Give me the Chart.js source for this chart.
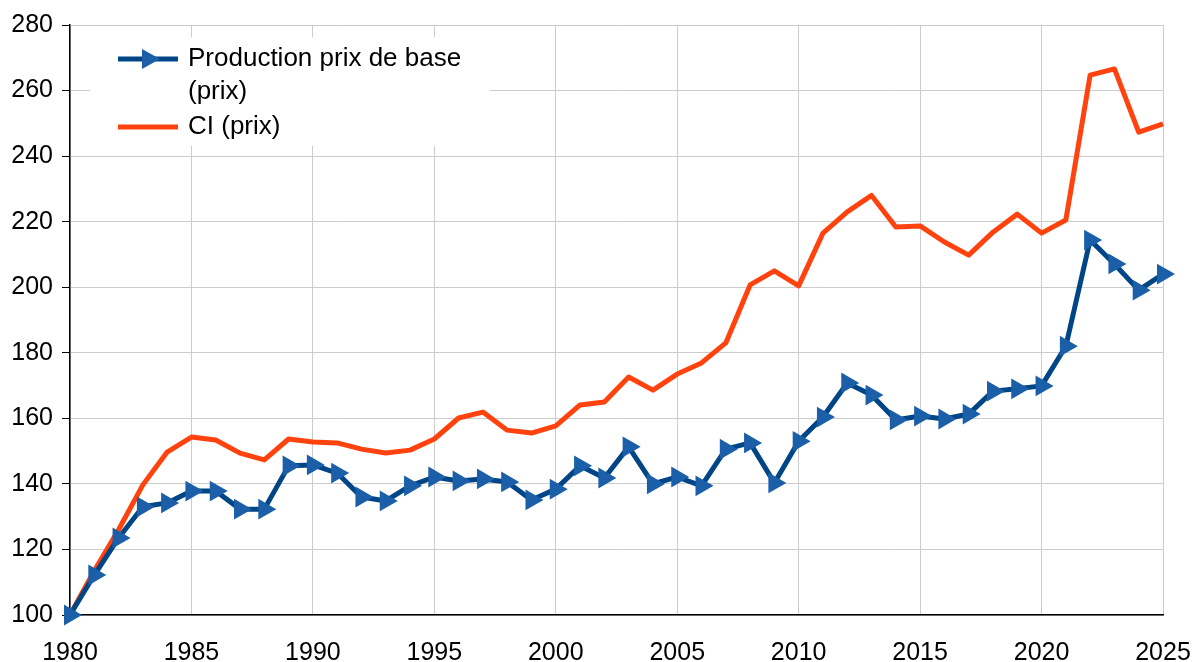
<!DOCTYPE html>
<html>
<head>
<meta charset="utf-8">
<script src="https://cdn.jsdelivr.net/npm/chart.js@4.4.1/dist/chart.umd.min.js"></script>
<style>
  html, body { margin: 0; padding: 0; background: #fff; }
  #wrap { width: 1193px; height: 662px; position: relative; }
</style>
</head>
<body>
<div id="wrap"><canvas id="chart"></canvas></div>
<script>
const years = [1980, 1981, 1982, 1983, 1984, 1985, 1986, 1987, 1988, 1989,
  1990, 1991, 1992, 1993, 1994, 1995, 1996, 1997, 1998, 1999,
  2000, 2001, 2002, 2003, 2004, 2005, 2006, 2007, 2008, 2009,
  2010, 2011, 2012, 2013, 2014, 2015, 2016, 2017, 2018, 2019,
  2020, 2021, 2022, 2023, 2024, 2025];

const production = [100, 112.2, 123.5, 133, 134.2, 137.8, 137.8, 132.3, 132.3, 145.5,
  145.8, 143.3, 136, 134.8, 139.4, 142.1, 140.9, 141.5, 140.6, 135.1,
  138.4, 145.5, 141.8, 151.3, 140, 142.1, 139.4, 150.6, 152.5, 140.3,
  153, 160.4, 170.8, 167.1, 159.5, 160.7, 159.8, 161.3, 168.3, 169,
  169.9, 182, 214.4, 207.1, 199.1, 204];

const ci = [100, 113.5, 126, 139.7, 149.7, 154.3, 153.4, 149.4, 147.3, 153.7,
  152.8, 152.5, 150.6, 149.4, 150.3, 153.7, 160.1, 161.9, 156.4, 155.5,
  157.7, 164.1, 165, 172.6, 168.6, 173.5, 176.9, 183, 200.7, 205,
  200.4, 216.5, 223, 228, 218.4, 218.7, 213.8, 209.8, 216.8, 222.3,
  216.5, 220.5, 264.7, 266.6, 247.3, 249.8];

const seriesNames = [['Production prix de base', '(prix)'], ['CI (prix)']];

const BLUE_LINE = '#004586';
const BLUE_MARK = '#1b5fa9';
const ORANGE = '#ff420e';
const FONT = '"Liberation Sans", Arial, sans-serif';

// legend drawn by hand: white box inside the plot, two-line first label
const boxLegend = {
  id: 'boxLegend',
  afterDraw(chart) {
    const ctx = chart.ctx;
    ctx.save();
    ctx.fillStyle = '#fff';
    ctx.fillRect(90, 37, 400, 109);

    ctx.lineWidth = 5;
    ctx.strokeStyle = BLUE_LINE;
    ctx.beginPath();
    ctx.moveTo(118, 59);
    ctx.lineTo(178, 59);
    ctx.stroke();
    // triangle marker pointing right
    ctx.fillStyle = BLUE_MARK;
    ctx.beginPath();
    ctx.moveTo(160, 59);
    ctx.lineTo(142, 49);
    ctx.lineTo(142, 69);
    ctx.closePath();
    ctx.fill();

    ctx.strokeStyle = ORANGE;
    ctx.beginPath();
    ctx.moveTo(118, 127);
    ctx.lineTo(178, 127);
    ctx.stroke();

    ctx.fillStyle = '#000';
    ctx.font = '26px ' + FONT;
    ctx.textBaseline = 'middle';
    ctx.textAlign = 'left';
    ctx.fillText(seriesNames[0][0], 188, 59);
    ctx.fillText(seriesNames[0][1], 188, 92);
    ctx.fillText(seriesNames[1][0], 188, 127);
    ctx.restore();
  }
};

new Chart(document.getElementById('chart'), {
  type: 'line',
  data: {
    datasets: [
      {
        label: seriesNames[0].join(' '),
        data: years.map((yr, i) => ({ x: yr, y: production[i] })),
        borderColor: BLUE_LINE,
        borderWidth: 5,
        borderJoinStyle: 'round',
        pointStyle: 'triangle',
        rotation: 90,
        pointRadius: 12,
        pointBorderWidth: 0,
        pointBackgroundColor: BLUE_MARK,
        tension: 0,
        clip: false
      },
      {
        label: seriesNames[1][0],
        data: years.map((yr, i) => ({ x: yr, y: ci[i] })),
        borderColor: ORANGE,
        borderWidth: 5,
        borderJoinStyle: 'round',
        pointRadius: 0,
        tension: 0,
        clip: false
      }
    ]
  },
  options: {
    responsive: true,
    maintainAspectRatio: false,
    animation: false,
    layout: { padding: { left: 0, right: 30, top: 25, bottom: 0 } },
    plugins: {
      legend: { display: false },
      tooltip: { enabled: false }
    },
    scales: {
      x: {
        type: 'linear',
        min: 1980,
        max: 2025,
        ticks: {
          stepSize: 5,
          callback: v => String(v),
          color: '#000',
          font: { family: FONT, size: 25 },
          padding: 23,
          maxRotation: 0
        },
        grid: { color: '#cccccc', drawTicks: false },
        border: { display: true, color: '#000', width: 1.5 },
        afterFit: s => { s.height = 47; s.paddingLeft = 0; s.paddingRight = 0; }
      },
      y: {
        min: 100,
        max: 280,
        ticks: {
          stepSize: 20,
          color: '#000',
          font: { family: FONT, size: 25 },
          padding: 9
        },
        grid: { color: '#cccccc', tickColor: '#000', tickLength: 8 },
        border: { display: true, color: '#000', width: 1.5 },
        afterFit: s => { s.width = 70; s.paddingTop = 0; s.paddingBottom = 0; }
      }
    }
  },
  plugins: [boxLegend]
});
</script>
</body>
</html>
